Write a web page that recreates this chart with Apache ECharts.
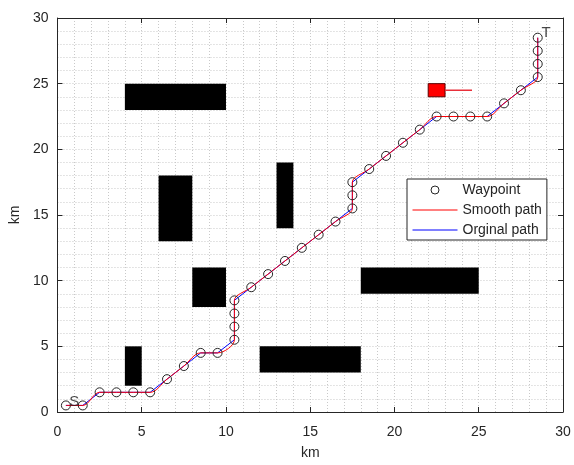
<!DOCTYPE html>
<html>
<head>
<meta charset="utf-8">
<script src="https://cdn.jsdelivr.net/npm/echarts@6/dist/echarts.min.js"></script>
<style>
  html, body { margin: 0; padding: 0; background: #fff; }
  #main { width: 574px; height: 465px; }
</style>
</head>
<body>
<div id="main"></div>
<script>
// 航点 (km)
var waypoints = [
  [0.5, 0.5], [1.5, 0.5], [2.5, 1.5], [3.5, 1.5], [4.5, 1.5], [5.5, 1.5],
  [6.5, 2.5], [7.5, 3.5], [8.5, 4.5], [9.5, 4.5], [10.5, 5.5], [10.5, 6.5],
  [10.5, 7.5], [10.5, 8.5], [11.5, 9.5], [12.5, 10.5], [13.5, 11.5], [14.5, 12.5],
  [15.5, 13.5], [16.5, 14.5], [17.5, 15.5], [17.5, 16.5], [17.5, 17.5], [18.5, 18.5],
  [19.5, 19.5], [20.5, 20.5], [21.5, 21.5], [22.5, 22.5], [23.5, 22.5], [24.5, 22.5],
  [25.5, 22.5], [26.5, 23.5], [27.5, 24.5], [28.5, 25.5], [28.5, 26.5], [28.5, 27.5],
  [28.5, 28.5]
];

// 障碍物 [x1, y1, x2, y2]
var obstacles = [
  [4, 23, 10, 25],
  [6, 13, 8, 18],
  [13, 14, 14, 19],
  [8, 8, 10, 11],
  [18, 9, 25, 11],
  [12, 3, 18, 5],
  [4, 2, 5, 5]
];

// 动态障碍物及其轨迹
var movingObstacle = [[22, 24, 23, 25]];
var movingTrack = [[23, 24.5], [24.6, 24.5]];

// 起点 / 终点标注
var endLabels = [
  { value: [1.0, 0.8], name: 'S' },
  { value: [29.0, 28.9], name: 'T' }
];

var xTicks = { min: 0, max: 30, interval: 5 };
var yTicks = { min: 0, max: 30, interval: 5 };

var chart = echarts.init(document.getElementById('main'), null, { renderer: 'canvas' });

var fontFamily = '"Liberation Sans", Arial, sans-serif';
var gridLine = { show: true, lineStyle: { color: '#c9c9c9', width: 1, type: [1, 2] } };

function rectItem(params, api) {
  var p1 = api.coord([api.value(0), api.value(1)]);
  var p2 = api.coord([api.value(2), api.value(3)]);
  return {
    type: 'rect',
    shape: {
      x: Math.min(p1[0], p2[0]),
      y: Math.min(p1[1], p2[1]),
      width: Math.abs(p2[0] - p1[0]),
      height: Math.abs(p2[1] - p1[1])
    },
    style: api.style()
  };
}

function mainAxis(pos, name, ticks) {
  return {
    type: 'value',
    position: pos,
    min: ticks.min,
    max: ticks.max,
    interval: ticks.interval,
    name: name,
    nameLocation: 'middle',
    nameGap: pos === 'bottom' ? 34 : 35,
    nameTextStyle: { color: '#262626', fontSize: 14, fontFamily: fontFamily },
    axisLine: { show: true, onZero: false, lineStyle: { color: '#262626', width: 1 } },
    axisTick: { show: true, inside: true, length: 5, lineStyle: { color: '#262626' } },
    axisLabel: { color: '#262626', fontSize: 14, fontFamily: fontFamily, margin: pos === 'bottom' ? 13 : 9 },
    splitLine: gridLine,
    minorTick: { show: false, splitNumber: 5 },
    minorSplitLine: gridLine
  };
}

function boxAxis(pos, ticks) {
  return {
    type: 'value',
    position: pos,
    min: ticks.min,
    max: ticks.max,
    interval: ticks.interval,
    axisLine: { show: true, onZero: false, lineStyle: { color: '#262626', width: 1 } },
    axisTick: { show: true, inside: true, length: 5, lineStyle: { color: '#262626' } },
    axisLabel: { show: false },
    splitLine: { show: false }
  };
}

var option = {
  backgroundColor: '#fff',
  animation: false,
  grid: { left: 56, right: 11, top: 18, bottom: 49, containLabel: false },
  xAxis: [mainAxis('bottom', 'km', xTicks), boxAxis('top', xTicks)],
  yAxis: [mainAxis('left', 'km', yTicks), boxAxis('right', yTicks)],
  legend: {
    orient: 'vertical',
    left: 407,
    top: 179,
    padding: [4, 5, 3, 5],
    itemGap: 6,
    itemWidth: 45,
    itemHeight: 10,
    backgroundColor: '#fff',
    borderColor: '#262626',
    borderWidth: 1,
    borderRadius: 0,
    textStyle: { color: '#262626', fontSize: 14, fontFamily: fontFamily },
    data: [
      {
        name: 'Waypoint',
        itemStyle: { color: '#fff', borderColor: '#262626', borderWidth: 1 },
        lineStyle: { opacity: 0 }
      },
      {
        name: 'Smooth path',
        itemStyle: { opacity: 0 },
        lineStyle: { color: '#ff0000', width: 1 }
      },
      {
        name: 'Orginal path',
        itemStyle: { opacity: 0 },
        lineStyle: { color: '#0000ff', width: 1 }
      }
    ]
  },
  series: [
    {
      name: 'obstacles',
      type: 'custom',
      renderItem: rectItem,
      encode: { x: [0, 2], y: [1, 3] },
      itemStyle: { color: '#000' },
      data: obstacles,
      z: 1
    },
    {
      name: 'moving',
      type: 'custom',
      renderItem: rectItem,
      encode: { x: [0, 2], y: [1, 3] },
      itemStyle: { color: '#ff0000', borderColor: '#5a0000', borderWidth: 1 },
      data: movingObstacle,
      z: 3
    },
    {
      name: 'track',
      type: 'line',
      data: movingTrack,
      symbol: 'none',
      lineStyle: { color: '#e8303a', width: 1.5 },
      z: 3
    },
    {
      name: 'Orginal path',
      type: 'line',
      data: waypoints,
      symbol: 'none',
      color: '#0000ff',
      lineStyle: { color: '#0000ff', width: 1 },
      z: 4
    },
    {
      name: 'Smooth path',
      type: 'line',
      data: waypoints,
      symbol: 'none',
      smooth: 0.35,
      color: '#ff0000',
      lineStyle: { color: '#ff0000', width: 1 },
      z: 5
    },
    {
      name: 'Waypoint',
      type: 'line',
      data: waypoints,
      symbol: 'circle',
      symbolSize: 9,
      showSymbol: true,
      color: '#262626',
      itemStyle: { color: 'rgba(0,0,0,0)', borderColor: '#262626', borderWidth: 1 },
      lineStyle: { opacity: 0, width: 0 },
      z: 6
    },
    {
      name: 'labels',
      type: 'scatter',
      data: endLabels,
      symbolSize: 1,
      itemStyle: { color: 'rgba(0,0,0,0)' },
      label: {
        show: true,
        position: 'inside',
        formatter: '{b}',
        color: '#1a1a1a',
        fontSize: 15,
        fontFamily: fontFamily
      },
      z: 7
    }
  ]
};

chart.setOption(option);
</script>
</body>
</html>
